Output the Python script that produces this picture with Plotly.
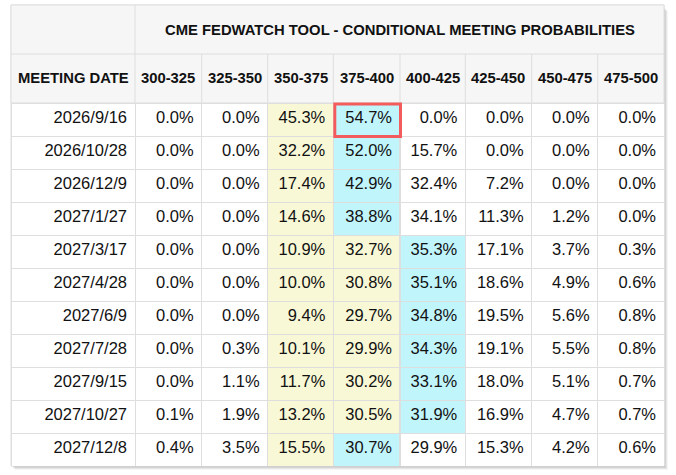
import plotly.graph_objects as go

W, H = 676, 475

title = "CME FEDWATCH TOOL - CONDITIONAL MEETING PROBABILITIES"
first_header = "MEETING DATE"
ranges = ["300-325", "325-350", "350-375", "375-400", "400-425", "425-450", "450-475", "475-500"]
dates = ["2026/9/16", "2026/10/28", "2026/12/9", "2027/1/27", "2027/3/17", "2027/4/28",
         "2027/6/9", "2027/7/28", "2027/9/15", "2027/10/27", "2027/12/8"]
p300_325 = [0.0, 0.0, 0.0, 0.0, 0.0, 0.0, 0.0, 0.0, 0.0, 0.1, 0.4]
p325_350 = [0.0, 0.0, 0.0, 0.0, 0.0, 0.0, 0.0, 0.3, 1.1, 1.9, 3.5]
p350_375 = [45.3, 32.2, 17.4, 14.6, 10.9, 10.0, 9.4, 10.1, 11.7, 13.2, 15.5]
p375_400 = [54.7, 52.0, 42.9, 38.8, 32.7, 30.8, 29.7, 29.9, 30.2, 30.5, 30.7]
p400_425 = [0.0, 15.7, 32.4, 34.1, 35.3, 35.1, 34.8, 34.3, 33.1, 31.9, 29.9]
p425_450 = [0.0, 0.0, 7.2, 11.3, 17.1, 18.6, 19.5, 19.1, 18.0, 16.9, 15.3]
p450_475 = [0.0, 0.0, 0.0, 1.2, 3.7, 4.9, 5.6, 5.5, 5.1, 4.7, 4.2]
p475_500 = [0.0, 0.0, 0.0, 0.0, 0.3, 0.6, 0.8, 0.8, 0.7, 0.7, 0.6]
current_range = "350-375"
highlight_cell = (0, "375-400")

cols = [p300_325, p325_350, p350_375, p375_400, p400_425, p425_450, p450_475, p475_500]

# styling
FONT = "Liberation Sans, Arial, sans-serif"
GRID = "#dedede"
HEAD_BG = "#f6f6f6"
YELLOW = "#f8f8d6"
CYAN = "#c1f5fc"
WHITE = "#ffffff"
TXT = "#111111"

# table geometry (px, from top-left of the page)
X0, X1 = 11, 664
Y_TITLE, Y_HEAD, Y_DATA, Y_BOT = 5, 54, 103, 466
ROW_H = 33
colw = [124, 66.7, 66, 65.6, 66.7, 65.3, 66.4, 66, 66.3]
scale = (X1 - X0) / sum(colw)
edges = [X0]
for w in colw:
    edges.append(edges[-1] + w * scale)


def px(x):
    return x / W


def py(y):
    return 1 - y / H


# fill colours derived from data
nrows = len(dates)
cur = ranges.index(current_range)
fills = [[WHITE] * nrows for _ in cols]
for r in range(nrows):
    row = [c[r] for c in cols]
    m = row.index(max(row))
    for j in range(cur, m):
        fills[j][r] = YELLOW
    fills[m][r] = CYAN

col_text = [dates] + [[f"{v:.1f}%" for v in c] for c in cols]
col_fill = [[WHITE] * nrows] + fills

fig = go.Figure()

# shadow
for off, a in [(4, 0.04), (3, 0.06), (2, 0.08), (1, 0.08)]:
    fig.add_shape(type="rect", xref="paper", yref="paper",
                  x0=px(X0 + off), x1=px(X1 + off),
                  y0=py(Y_BOT + off), y1=py(Y_TITLE + off + 2),
                  fillcolor=f"rgba(0,0,0,{a})", line_width=0, layer="below")
fig.add_shape(type="rect", xref="paper", yref="paper",
              x0=px(X0), x1=px(X1), y0=py(Y_BOT), y1=py(Y_TITLE),
              fillcolor=WHITE, line=dict(color=GRID, width=1), layer="below")

# header background (two rows)
fig.add_shape(type="rect", xref="paper", yref="paper",
              x0=px(X0), x1=px(X1), y0=py(Y_DATA), y1=py(Y_TITLE),
              fillcolor=HEAD_BG, line=dict(color=GRID, width=1), layer="below")
fig.add_shape(type="line", xref="paper", yref="paper",
              x0=px(X0), x1=px(X1), y0=py(Y_HEAD), y1=py(Y_HEAD),
              line=dict(color=GRID, width=1), layer="below")
fig.add_shape(type="line", xref="paper", yref="paper",
              x0=px(edges[1]), x1=px(edges[1]), y0=py(Y_DATA), y1=py(Y_TITLE),
              line=dict(color=GRID, width=1), layer="below")
for e in edges[2:-1]:
    fig.add_shape(type="line", xref="paper", yref="paper",
                  x0=px(e), x1=px(e), y0=py(Y_DATA), y1=py(Y_HEAD),
                  line=dict(color=GRID, width=1), layer="below")

# title
fig.add_annotation(x=px((edges[1] + X1) / 2), y=py((Y_TITLE + Y_HEAD) / 2),
                   xref="paper", yref="paper", xanchor="center", yanchor="middle",
                   text=f"<b>{title}</b>", showarrow=False,
                   font=dict(family=FONT, size=14.8, color=TXT))
# column headers
heads = [first_header] + ranges
for i, h in enumerate(heads):
    fig.add_annotation(x=px((edges[i] + edges[i + 1]) / 2), y=py((Y_HEAD + Y_DATA) / 2),
                       xref="paper", yref="paper", xanchor="center", yanchor="middle",
                       text=f"<b>{h}</b>", showarrow=False,
                       font=dict(family=FONT, size=14.8, color=TXT))

# data rows: first row as the table header (same style as cells), rest as cells
row_style = dict(line=dict(color=GRID, width=1), align="right", height=ROW_H,
                 font=dict(family=FONT, size=16.5, color=TXT))
fig.add_trace(go.Table(
    domain=dict(x=[px(X0), px(X1)], y=[py(Y_BOT), py(Y_DATA)]),
    columnwidth=colw,
    header=dict(values=[t[0] for t in col_text],
                fill_color=[f[0] for f in col_fill], **row_style),
    cells=dict(values=[t[1:] for t in col_text],
               fill_color=[f[1:] for f in col_fill], **row_style),
))

# red highlight around the selected cell
hr, hc = highlight_cell
ci = ranges.index(hc) + 1
cy0 = Y_DATA + hr * ROW_H
fig.add_shape(type="rect", xref="paper", yref="paper",
              x0=px(edges[ci] + 1.5), x1=px(edges[ci + 1] + 0.5),
              y0=py(cy0 + ROW_H + 0.5), y1=py(cy0 + 1),
              line=dict(color="#f25c5c", width=3), layer="above")

fig.update_layout(width=W, height=H, margin=dict(l=0, r=0, t=0, b=0),
                  paper_bgcolor="white", plot_bgcolor="white")

fig.write_html("out.html", config={"displayModeBar": False},
               post_script="document.body.style.margin='0px';")
